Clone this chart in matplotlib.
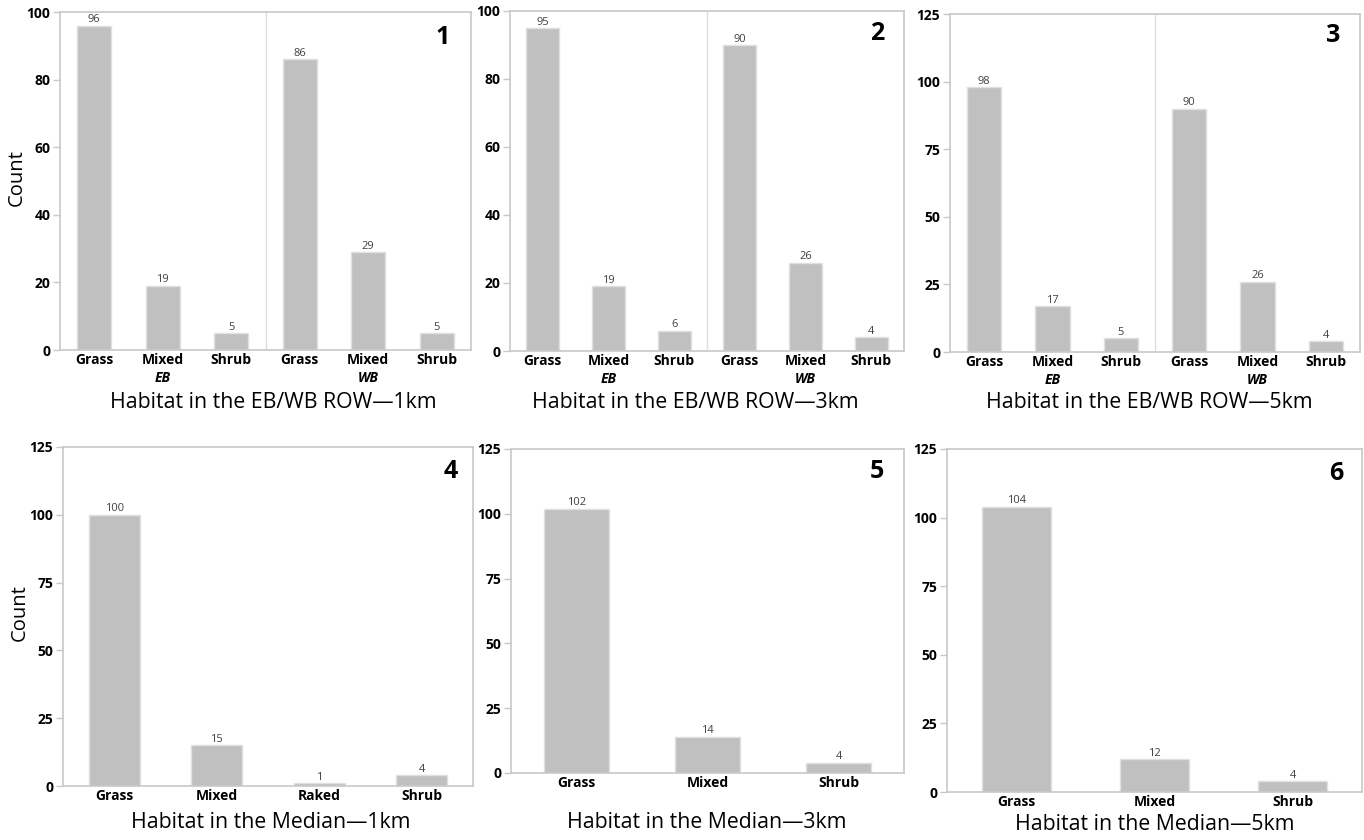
import matplotlib
matplotlib.use("Agg")
import matplotlib.pyplot as plt
from matplotlib.ticker import MultipleLocator

W, H = 1364, 840
DPI = 100
plt.rcParams['font.family'] = ['Open Sans', 'DejaVu Sans']

# ---- data -------------------------------------------------------------
row_categories = ["Grass", "Mixed", "Shrub"]
row_groups = ["EB", "WB"]
eb_1km = [96, 19, 5]
wb_1km = [86, 29, 5]
eb_3km = [95, 19, 6]
wb_3km = [90, 26, 4]
eb_5km = [98, 17, 5]
wb_5km = [90, 26, 4]

median_1km_categories = ["Grass", "Mixed", "Raked", "Shrub"]
median_1km = [100, 15, 1, 4]
median_categories = ["Grass", "Mixed", "Shrub"]
median_3km = [102, 14, 4]
median_5km = [104, 12, 4]

titles = ["Habitat in the EB/WB ROW\u20141km", "Habitat in the EB/WB ROW\u20143km",
          "Habitat in the EB/WB ROW\u20145km", "Habitat in the Median\u20141km",
          "Habitat in the Median\u20143km", "Habitat in the Median\u20145km"]

BAR = '#c0c0c0'
BAR_EDGE = '#e0e0e0'
SPINE = '#c8c8c8'
DIVIDER = '#dedede'

fig = plt.figure(figsize=(W / DPI, H / DPI), dpi=DPI)


def fx(px):
    return px / W


def fy(py):
    return 1 - py / H


def px_axes(l, t, r, b):
    return fig.add_axes([fx(l), fy(b), fx(r - l), (b - t) / H])


def style(ax, ymax, step):
    ax.set_ylim(0, ymax)
    ax.yaxis.set_major_locator(MultipleLocator(step))
    for s in ax.spines.values():
        s.set_color(SPINE)
        s.set_linewidth(1.2)
    ax.tick_params(axis='y', length=5, width=1, color=SPINE, labelsize=10, pad=2)
    ax.tick_params(axis='x', length=0, labelsize=10, pad=2)
    for lab in ax.get_yticklabels() + ax.get_xticklabels():
        lab.set_fontweight('bold')


def bars(ax, values, labels):
    x = list(range(len(values)))
    rects = ax.bar(x, values, width=0.5, color=BAR, edgecolor=BAR_EDGE, linewidth=1)
    for r, v in zip(rects, values):
        ax.annotate(str(v), (r.get_x() + r.get_width() / 2, v), xytext=(0, 0.3),
                    textcoords='offset points', ha='center', va='bottom',
                    fontsize=8, color='#404040')
    ax.set_xticks(x)
    ax.set_xticklabels(labels)
    ax.set_xlim(-0.5, len(values) - 0.5)


def grouped(ax, eb, wb):
    bars(ax, eb + wb, row_categories * 2)
    ax.axvline(len(eb) - 0.5, color=DIVIDER, lw=1)
    for i, g in enumerate(row_groups):
        ax.annotate(g, (i * len(eb) + (len(eb) - 1) / 2, 0), xycoords=('data', 'axes fraction'),
                    xytext=(0, -28 * 72 / DPI), textcoords='offset points',
                    ha='center', va='center', fontsize=10, fontweight='bold',
                    fontstyle='italic')


# ---- top row: EB / WB right-of-way -----------------------------------
ax1 = px_axes(60, 12, 471, 350)
grouped(ax1, eb_1km, wb_1km)
style(ax1, 100, 20)

ax2 = px_axes(510, 11, 904, 351)
grouped(ax2, eb_3km, wb_3km)
style(ax2, 100, 20)

ax3 = px_axes(950, 14, 1360, 352)
grouped(ax3, eb_5km, wb_5km)
style(ax3, 125, 25)

# ---- bottom row: median ----------------------------------------------
ax4 = px_axes(63, 447, 473, 786)
bars(ax4, median_1km, median_1km_categories)
style(ax4, 125, 25)

ax5 = px_axes(511, 449, 904, 773)
bars(ax5, median_3km, median_categories)
style(ax5, 125, 25)

ax6 = px_axes(947, 449, 1362, 792)
bars(ax6, median_5km, median_categories)
style(ax6, 125, 25)

# ---- axis titles ------------------------------------------------------
title_pos = [(273, 402), (695, 402), (1149, 402), (271, 823), (707, 823), (1155, 825)]
for t, (x, y) in zip(titles, title_pos):
    fig.text(fx(x), fy(y), t, ha='center', va='center', fontsize=15.3)

fig.text(fx(17), fy(178), "Count", rotation=90, ha='center', va='center', fontsize=14.5)
fig.text(fx(20), fy(613), "Count", rotation=90, ha='center', va='center', fontsize=14.5)

# ---- panel numbers ----------------------------------------------------
num_pos = [(443, 37), (877, 33), (1333, 36), (451, 472), (877, 472), (1336, 473)]
for i, (x, y) in enumerate(num_pos, start=1):
    fig.text(fx(x), fy(y), str(i), ha='center', va='center', fontsize=18, fontweight='bold')

fig.savefig("out.png", dpi=DPI, facecolor='white')
